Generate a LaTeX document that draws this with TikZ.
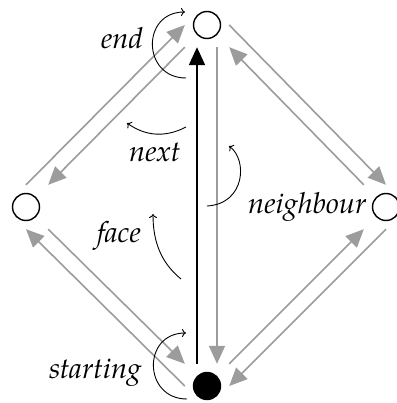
\documentclass[tikz,border=0pt]{standalone}
\usepackage{fontspec}
\setmainfont{TeX Gyre Pagella}
\usetikzlibrary{arrows.meta}
\begin{document}
\begin{tikzpicture}[x=1pt,y=-1pt,
  anchorbox/.style={rectangle,minimum size=44pt,inner sep=0pt},
  vtx/.style={circle,draw,line width=1.4pt,minimum size=27pt,inner sep=0pt},
  gedge/.style={draw=gray!78,line width=1.6pt,-{Triangle[length=18pt,width=16pt]}},
  bedge/.style={draw=black,line width=2pt,-{Triangle[length=18pt,width=16pt]}},
  ann/.style={line width=0.9pt,-{To[length=4pt,width=8pt]}},
  lbl/.style={font=\fontsize{29}{34}\selectfont\itshape,inner sep=0pt,anchor=base west}]
\useasboundingbox (0,0) rectangle (396,403);
% anchor boxes
\node[anchorbox] (T) at (207,25) {};
\node[anchorbox] (L) at (26,207) {};
\node[anchorbox] (R) at (386,207) {};
\node[anchorbox] (B) at (207,386) {};
% vertices
\node[vtx] (Tc) at (T) {};
\node[vtx] (Lc) at (L) {};
\node[vtx] (Rc) at (R) {};
\node[vtx,fill=black] (Bc) at (B) {};
% half-edges
\draw[gedge] (L.north) -- (T.west);
\draw[gedge] (T.south west) -- (L.north east);
\draw[gedge] (T.east) -- (R.north);
\draw[gedge] (R.north west) -- (T.south east);
\draw[gedge] (B.west) -- (L.south);
\draw[gedge] (L.south east) -- (B.north west);
\draw[gedge] (B.north east) -- (R.south west);
\draw[gedge] (R.south) -- (B.east);
\draw[bedge] ([xshift=-10pt]B.north) -- ([xshift=-10pt]T.south);
\draw[gedge] ([xshift=10pt]T.south) -- ([xshift=10pt]B.north);
% annotation curves
\coordinate (ea) at (186,78); \coordinate (eb) at (185,12);
\draw[ann] (ea) .. controls (142,78) and (141,12) .. (eb);
\coordinate (na) at (186,127); \coordinate (nb) at (127,123);
\draw[ann] (na) .. controls (165,138) and (145,136) .. (nb);
\coordinate (ga) at (207,206); \coordinate (gb) at (229,146);
\draw[ann] (ga) .. controls (245,204) and (248,160) .. (gb);
\coordinate (fa) at (181,279); \coordinate (fb) at (153,214);
\draw[ann] (fa) .. controls (160,262) and (153,240) .. (fb);
\coordinate (sa) at (187,399); \coordinate (sb) at (186,333);
\draw[ann] (sa) .. controls (143,399) and (142,333) .. (sb);
% labels
\node[lbl] (lend) at (101,49) {end};
\node[lbl] (lnext) at (129,162) {next};
\node[lbl] (lface) at (97,242) {face};
\node[lbl] (lnb) at (248,213) {neighbour};
\node[lbl] (lst) at (49,378) {starting};
\end{tikzpicture}
\end{document}
